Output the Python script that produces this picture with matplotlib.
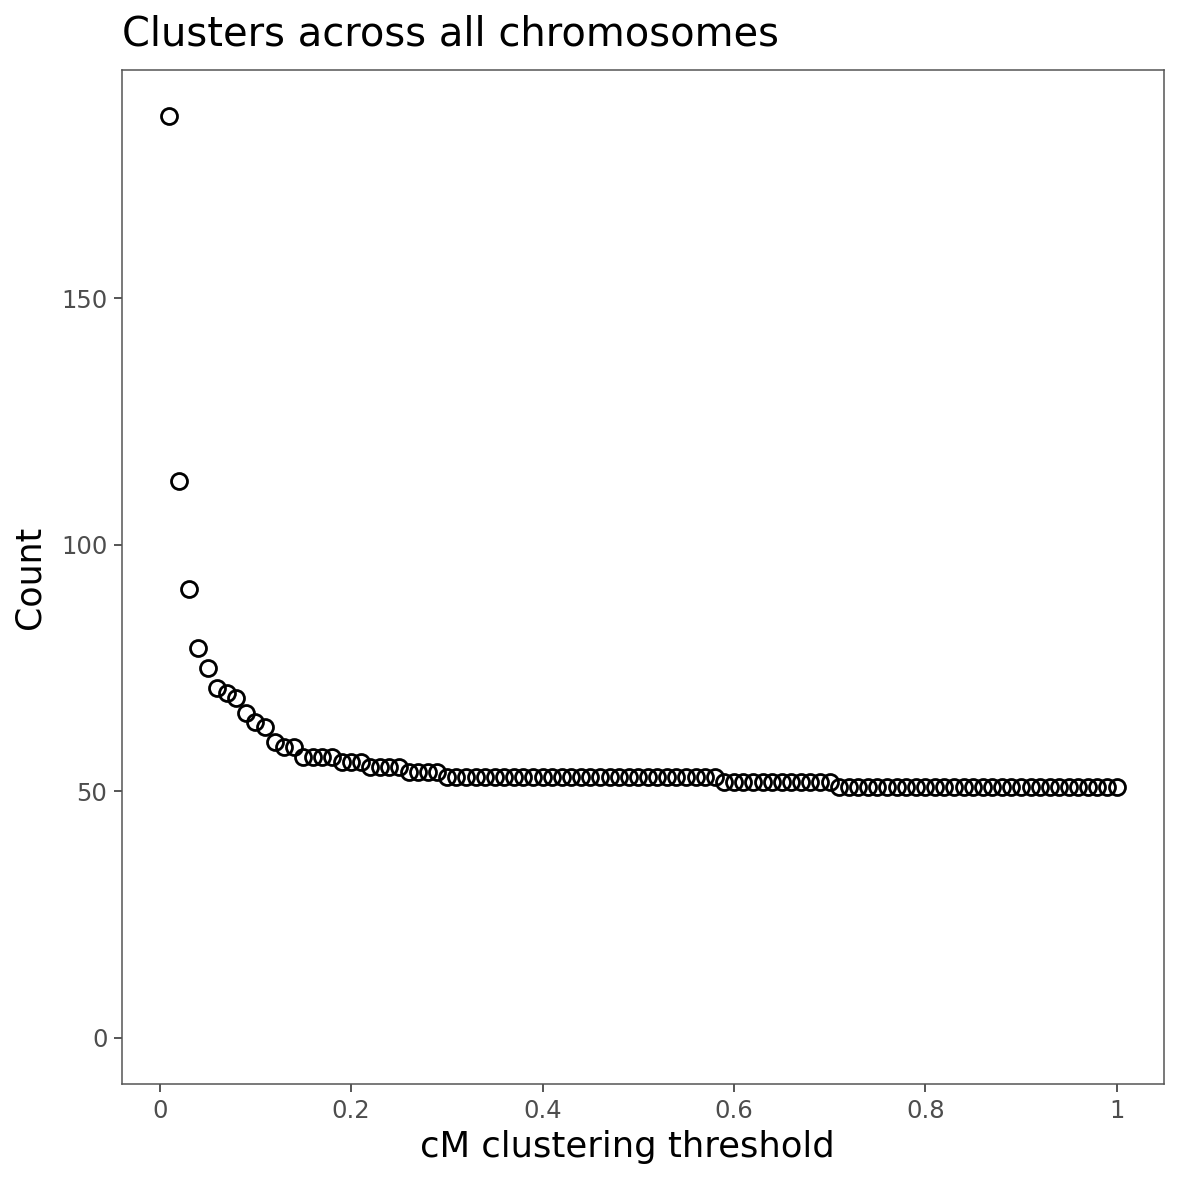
import matplotlib
matplotlib.use("Agg")
import matplotlib.pyplot as plt
import numpy as np

# clustering threshold (cM) and number of clusters found
threshold = [round(0.01 * i, 2) for i in range(1, 101)]
count = ([187, 113, 91, 79, 75, 71, 70, 69, 66, 64,
          63, 60, 59, 59, 57, 57, 57, 57, 56, 56,
          56, 55, 55, 55, 55, 54, 54, 54, 54]
         + [53] * 29
         + [52] * 12
         + [51] * 30)

x_ticks = [0, 0.2, 0.4, 0.6, 0.8, 1.0]
x_ticklabels = ["0", "0.2", "0.4", "0.6", "0.8", "1"]
y_ticks = [0, 50, 100, 150]

W = H = 1181
fig = plt.figure(figsize=(W / 100, H / 100), dpi=100)
ax = fig.add_axes([122 / W, 1 - 1084 / H, (1164 - 122) / W, (1084 - 70) / H])

ax.plot(threshold, count, linestyle="none", marker="o", markersize=11.5,
        markerfacecolor="none", markeredgecolor="black", markeredgewidth=2.0)

xr = max(threshold) - min(threshold)
ax.set_xlim(min(threshold) - 0.05 * xr, max(threshold) + 0.05 * xr)
yr = max(count) - 0
ax.set_ylim(0 - 0.05 * yr, max(count) + 0.05 * yr)

ax.set_xticks(x_ticks)
ax.set_xticklabels(x_ticklabels)
ax.set_yticks(y_ticks)
ax.tick_params(axis="both", direction="out", length=5.5, width=1.4,
               color="#555555", labelcolor="#4d4d4d", labelsize=17.5, pad=5)
for s in ax.spines.values():
    s.set_color("#555555")
    s.set_linewidth(1.1)
ax.grid(False)

fig.text(122 / W, 1 - 46 / H, "Clusters across all chromosomes",
         fontsize=28.8, ha="left", va="baseline", color="black")
fig.text(627 / W, 1 - 1157 / H, "cM clustering threshold",
         fontsize=25.5, ha="center", va="baseline", color="black")
fig.text(30 / W, 1 - 577 / H, "Count", fontsize=25, rotation=90,
         ha="center", va="center", color="black")

fig.savefig("out.png", dpi=100)
